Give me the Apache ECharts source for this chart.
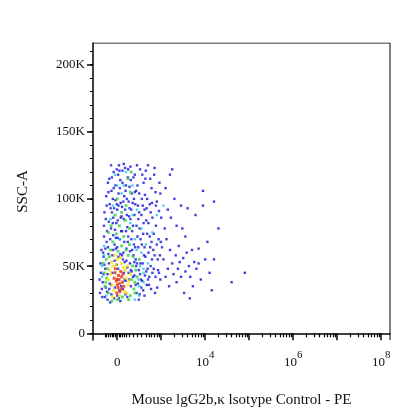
<!DOCTYPE html><html><head><meta charset="utf-8">
<script src="https://cdn.jsdelivr.net/npm/echarts@6/dist/echarts.min.js"></script>
<style>html,body{margin:0;background:#fff}#c{width:416px;height:416px}</style></head><body><div id="c"></div>
<script>
// x in display units: 0 -> 2, 10^4 -> 4, 10^6 -> 6, 10^8 -> 8 ; y in thousands
const xTickValues=[2,4,6,8];
const xTickLabels=['0','10^4','10^6','10^8'];
const yTickValues=[0,50,100,150,200];
const yTickLabels=['0','50K','100K','150K','200K'];
const redPts=[[2.0,40],[2.05,37],[2.1,42],[1.95,45],[2.02,34],[2.12,38],[1.98,39],[2.08,46],[2.15,35],[2.03,43],[2.06,31],[1.93,41],[2.0,36],[2.1,33],[1.96,48],[2.04,40],[2.13,44],[1.99,30]];
const yellowPts=[[1.85,44],[1.9,50],[2.2,41],[2.25,36],[1.88,36],[2.18,47],[1.92,32],[2.1,52],[2.0,55],[2.22,30],[1.8,40],[2.3,44],[2.05,28],[1.95,58],[2.14,49],[1.87,53],[1.83,47],[2.27,39],[2.08,56],[1.9,27],[2.17,31],[1.97,51],[2.23,50]];
const greenPts=[[1.7,45],[1.75,55],[1.8,30],[2.35,50],[2.4,38],[2.3,28],[1.85,62],[2.1,65],[2.25,58],[1.72,35],[2.0,25],[2.45,42],[2.15,72],[1.9,68],[2.05,80],[2.2,95],[1.95,88],[2.3,105],[2.25,115],[2.0,100],[1.8,75],[2.5,55],[2.12,27],[1.78,48],[2.38,33],[2.28,66],[1.98,74],[2.18,84],[2.32,120],[1.76,41],[2.33,40],[2.36,57],[1.82,57],[2.02,61],[2.26,25],[1.88,24],[2.42,47],[1.74,38],[2.2,62],[2.4,30],[1.68,52],[2.1,90],[2.28,78],[1.86,80]];
const cyanPts=[[1.65,50],[2.5,35],[2.6,45],[1.7,65],[2.4,70],[2.55,60],[2.3,82],[2.45,92],[2.35,110],[2.2,120],[1.85,85],[2.0,110],[3.05,95],[2.8,75],[2.9,88],[2.6,48],[1.75,28],[2.4,25],[2.7,52],[1.9,95],[2.1,104],[2.55,78],[1.66,42],[2.48,40],[2.5,28],[1.7,58],[2.44,62],[2.52,50],[2.05,70],[2.35,88],[1.95,118],[2.15,110],[2.6,38],[2.65,66]];
const bluePts=[[1.6,40],[1.62,52],[1.65,33],[1.68,60],[1.7,72],[1.72,27],[1.74,85],[1.76,95],[1.78,44],[1.8,105],[1.82,115],[1.84,23],[1.86,78],[1.88,90],[1.9,100],[1.92,120],[1.94,66],[1.96,110],[1.98,82],[2.0,92],[2.02,118],[2.04,125],[2.06,70],[2.08,97],[2.1,87],[2.12,112],[2.14,60],[2.16,102],[2.18,123],[2.2,76],[2.22,88],[2.24,68],[2.26,98],[2.28,109],[2.3,124],[2.32,92],[2.34,62],[2.36,80],[2.38,100],[2.4,118],[2.42,55],[2.44,30],[2.46,72],[2.48,85],[2.5,104],[2.52,122],[2.54,40],[2.56,66],[2.58,95],[2.6,112],[2.62,28],[2.64,57],[2.66,84],[2.68,100],[2.7,125],[2.72,36],[2.74,72],[2.76,90],[2.78,108],[2.8,45],[2.82,62],[2.84,118],[2.86,30],[2.88,80],[2.9,98],[2.92,55],[2.94,70],[2.96,112],[2.98,40],[3.0,86],
[1.63,45],[1.67,38],[1.69,57],[1.73,48],[1.77,31],[1.79,64],[1.81,52],[1.83,37],[1.87,29],[1.89,58],[1.91,73],[1.93,26],[1.97,63],[1.99,51],[2.01,71],[2.03,57],[2.07,24],[2.09,76],[2.11,58],[2.13,33],[2.17,53],[2.19,39],[2.21,63],[2.23,49],[2.27,40],[2.29,52],[2.31,35],[2.33,46],[2.37,58],[2.39,43],[2.41,64],[2.43,50],[2.47,37],[2.49,47],[2.51,29],[2.53,52],[2.57,39],[2.59,32],[2.61,58],[2.63,43],[2.67,36],[2.69,48],[2.71,60],[2.73,42],[2.77,33],[2.79,55],[2.83,48],[2.87,42],[2.91,34],[2.93,47],[2.97,58],
[1.71,90],[1.75,102],[1.79,112],[1.83,96],[1.87,106],[1.91,86],[1.95,77],[1.99,96],[2.03,104],[2.07,114],[2.11,94],[2.15,85],[2.19,106],[2.23,79],[2.27,87],[2.31,114],[2.35,97],[2.39,88],[2.43,106],[2.47,95],[2.51,78],[2.55,88],[2.59,74],[2.63,103],[2.67,93],[2.71,82],[2.75,64],[2.79,97],[2.83,74],[2.87,105],[2.95,91],[2.99,68],[2.05,121],[2.15,126],[2.25,122],[2.45,125],[2.65,121],[2.85,123],
[3.05,55],[3.1,42],[3.12,70],[3.15,48],[3.18,35],[3.2,62],[3.22,86],[3.25,52],[3.28,44],[3.3,100],[3.33,58],[3.35,38],[3.38,48],[3.4,65],[3.42,53],[3.45,42],[3.48,78],[3.5,56],[3.52,30],[3.55,46],[3.58,60],[3.6,93],[3.63,50],[3.66,42],[3.7,62],[3.72,35],[3.75,53],[3.78,88],[3.8,48],[3.85,63],[3.9,40],[3.95,95],[4.0,55],[4.05,68],[4.1,45],[3.1,108],[3.2,118],[3.15,92],[3.35,80],[3.45,95],[3.55,72],[3.65,26],[3.25,122],[3.08,78],[3.85,52],
[4.2,98],[4.3,78],[4.2,55],[4.9,45],[4.6,38],[3.95,106],[4.15,32]];
const bluePts2=[[1.61,30],[1.64,62],[1.66,27],[1.69,44],[1.71,51],[1.73,63],[1.74,34],[1.76,68],[1.78,25],[1.8,59],[1.81,83],[1.82,33],[1.84,70],[1.85,93],[1.86,36],[1.88,116],[1.89,45],[1.9,82],[1.91,62],[1.92,108],[1.94,54],[1.95,34],[1.96,99],[1.97,71],[1.99,122],[2.0,64],[2.01,84],[2.02,48],[2.03,95],[2.04,26],[2.06,108],[2.07,59],[2.08,86],[2.09,35],[2.11,76],[2.12,121],[2.13,55],[2.14,98],[2.16,68],[2.17,40],[2.18,92],[2.2,110],[2.21,54],[2.22,100],[2.23,27],[2.24,116],[2.25,72],[2.26,45],[2.28,93],[2.29,61],[2.3,85],[2.31,47],[2.33,104],[2.34,76],[2.36,42],[2.37,116],[2.38,66],[2.39,53],[2.41,96],[2.42,36],[2.44,80],[2.45,52],[2.46,110],[2.48,64],[2.49,25],[2.5,90],[2.52,44],[2.53,70],[2.55,34],[2.56,100],[2.58,52],[2.6,82],[2.62,64],[2.64,115],[2.66,46],[2.68,74],[2.7,40],[2.74,96],[2.76,50],[2.8,86],[2.85,58],[2.9,66],[2.95,45],[3.02,64],[1.93,93],[2.05,32],[2.15,45],[2.32,70],[1.77,76],[1.7,80],[2.57,118],[2.75,115],[1.86,125],[2.0,28],[2.19,29],[2.4,105],[2.62,92],[2.78,68],[2.88,95],[2.98,104]];
const fnt='"Liberation Serif","DejaVu Serif",serif';
const minorX=[1.72,1.76,1.8,1.84,1.88,1.92,1.96,2.04,2.08,2.12,2.16,2.2,2.28,2.36,2.45,2.55,2.65,2.72,2.78,2.84,2.9,2.95];
for(let k=3;k<8;k++){for(let m=2;m<10;m++){minorX.push(k+Math.log10(m));}}
const minorY=[];for(let v=0;v<=210;v+=10)minorY.push(v);
const grid={left:93,right:26,top:43,bottom:76};
const ax={min:1.45,max:8.2,type:'value'};
const ay={min:-5,max:216,type:'value'};
function sc(data,color,sz){return {type:'scatter',data:data,symbol:'rect',symbolSize:sz||2.4,itemStyle:{color:color},silent:true};}
const chart=echarts.init(document.getElementById('c'),null,{renderer:'canvas'});
chart.setOption({animation:false,backgroundColor:'#fff',grid:grid,
xAxis:[Object.assign({},ax,{position:'bottom',splitLine:{show:false},axisLine:{lineStyle:{color:'#000',width:1.5}},
 axisTick:{customValues:xTickValues.concat([3,5,7]),length:7,lineStyle:{color:'#000',width:1.5}},
 axisLabel:{customValues:xTickValues,margin:10,formatter:function(v){const i=xTickValues.indexOf(v);const s=xTickLabels[i];if(s.indexOf('^')<0)return '{b|'+s+'}';const p=s.split('^');return '{b|'+p[0]+'}{s|'+p[1]+'}';},
 rich:{b:{fontFamily:fnt,fontSize:13,color:'#111',padding:[6,0,0,0]},s:{fontFamily:fnt,fontSize:11,color:'#111',verticalAlign:'top',padding:[0,0,8,0]}}},
 name:'Mouse lgG2b,κ lsotype Control - PE',nameLocation:'middle',nameGap:53,nameTextStyle:{fontFamily:fnt,fontSize:15,color:'#111'}}),
 Object.assign({},ax,{position:'bottom',axisLine:{show:false},splitLine:{show:false},axisLabel:{show:false},axisTick:{customValues:minorX,length:4,lineStyle:{color:'#000',width:1.2}}})],
yAxis:[Object.assign({},ay,{splitLine:{show:false},axisLine:{lineStyle:{color:'#000',width:1.5}},axisTick:{customValues:yTickValues,length:6,lineStyle:{color:'#000',width:1.5}},
 axisLabel:{customValues:yTickValues,formatter:function(v){return yTickLabels[yTickValues.indexOf(v)];},fontFamily:fnt,fontSize:13,color:'#111',margin:8},
 name:'SSC-A',nameLocation:'middle',nameGap:62,nameTextStyle:{fontFamily:fnt,fontSize:15,color:'#111'}}),
 Object.assign({},ay,{position:'left',axisLine:{show:false},splitLine:{show:false},axisLabel:{show:false},axisTick:{customValues:minorY,length:3,lineStyle:{color:'#000',width:1}}})],
series:[sc(bluePts,'#1010d8'),sc(bluePts2,'#1a1ae0'),sc(cyanPts,'#20c8f0'),sc(greenPts,'#30d040',2.8),sc(yellowPts,'#f0e010',3),sc(redPts,'#e83010',3),
 {type:'line',data:[[1.45,216],[8.2,216],[8.2,-5]],symbol:'none',lineStyle:{color:'#000',width:1},silent:true}]
});
</script></body></html>
